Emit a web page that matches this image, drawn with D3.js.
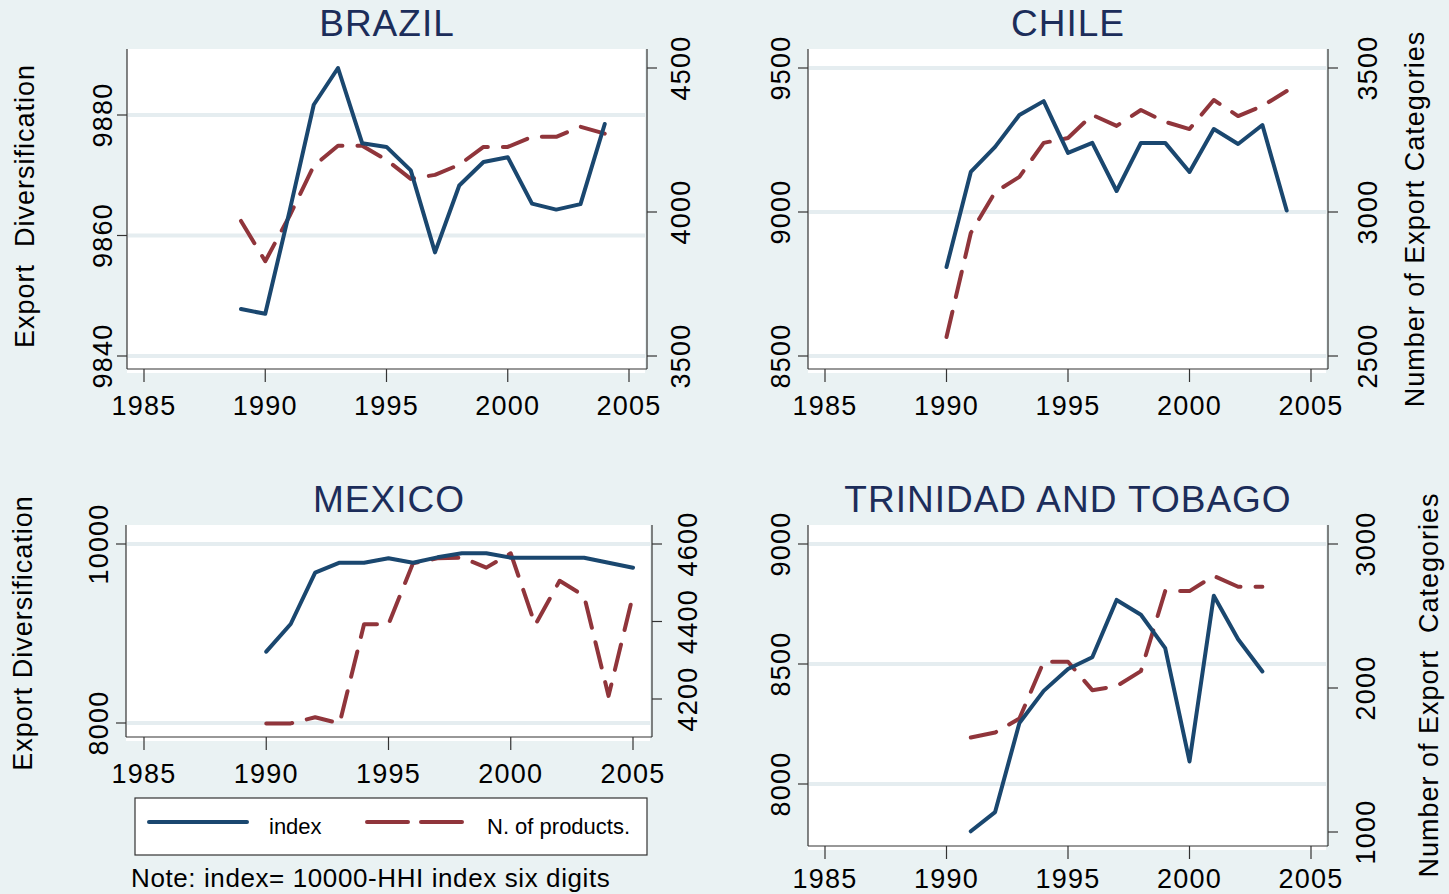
<!DOCTYPE html>
<meta charset="utf-8">
<style>
body { margin: 0; background: #eaf2f3; }
text { font-family: "Liberation Sans", Arial, sans-serif; fill: #000; white-space: pre; }
.title { fill: #1c2d5a; font-size: 37px; }
.tick { font-size: 27px; letter-spacing: 1.2px; }
.ytitle { font-size: 27px; letter-spacing: 1px; }
.axis { stroke: #333; stroke-width: 1.2px; }
.grid { stroke: #e5edf0; stroke-width: 4px; }
.index { fill: none; stroke: #1a476f; stroke-width: 4px; stroke-linejoin: round; stroke-linecap: round; }
.prod { fill: none; stroke: #90353b; stroke-width: 4px; stroke-linejoin: round; stroke-linecap: round; stroke-dasharray: 26,15; }
</style>
<body>
<script src="https://cdn.jsdelivr.net/npm/d3@7"></script>
<script>

var width = 1449;
var height = 894;

// data
var xTicks = [1985, 1990, 1995, 2000, 2005];

var brazilYears = [1989, 1990, 1991, 1992, 1993, 1994, 1995, 1996, 1997, 1998, 1999, 2000, 2001, 2002, 2003, 2004];
var brazilIndex = [9847.8, 9847, 9864, 9881.7, 9887.8, 9875.3, 9874.7, 9870.8, 9857.2, 9868.3, 9872.2, 9873, 9865.3, 9864.3, 9865.2, 9878.5];
var brazilProducts = [3969, 3829, 3986, 4160, 4230, 4230, 4181, 4115, 4129, 4164, 4226, 4226, 4261, 4261, 4296, 4272];

var chileYears = [1990, 1991, 1992, 1993, 1994, 1995, 1996, 1997, 1998, 1999, 2000, 2001, 2002, 2003, 2004];
var chileIndex = [8809, 9139, 9226, 9337, 9385, 9205, 9240, 9073, 9240, 9240, 9139, 9288, 9236, 9302, 9005];
var chileProducts = [2566, 2927, 3069, 3122, 3240, 3257, 3337, 3299, 3354, 3313, 3288, 3389, 3333, 3368, 3420];

var mexicoYears = [1990, 1991, 1992, 1993, 1994, 1995, 1996, 1997, 1998, 1999, 2000, 2001, 2002, 2003, 2004, 2005];
var mexicoIndex = [8797, 9106, 9680, 9791, 9791, 9840, 9791, 9851, 9896, 9896, 9847, 9847, 9847, 9847, 9791, 9735];
var mexicoProducts = [4137, 4137, 4153, 4137, 4393, 4393, 4550, 4563, 4565, 4539, 4576, 4391, 4505, 4466, 4208, 4468];

var ttYears = [1991, 1992, 1993, 1994, 1995, 1996, 1997, 1998, 1999, 2000, 2001, 2002, 2003];
var ttIndex = [7803, 7883, 8254, 8388, 8479, 8528, 8767, 8705, 8566, 8094, 8784, 8603, 8469];
var ttProducts = [1656, 1691, 1788, 2182, 2182, 1985, 2013, 2117, 2673, 2673, 2778, 2703, 2703];

var brazilLeftTicks = [9840, 9860, 9880];
var brazilRightTicks = [3500, 4000, 4500];
var chileLeftTicks = [8500, 9000, 9500];
var chileRightTicks = [2500, 3000, 3500];
var mexicoLeftTicks = [8000, 10000];
var mexicoRightTicks = [4200, 4400, 4600];
var ttLeftTicks = [8000, 8500, 9000];
var ttRightTicks = [1000, 2000, 3000];

var svg = d3.select("body").append("svg")
    .attr("width", width)
    .attr("height", height);

svg.append("rect").attr("width", width).attr("height", height).attr("fill", "#eaf2f3");

var panels = [
  {name: "BRAZIL", years: brazilYears, index: brazilIndex, prod: brazilProducts,
   lt: brazilLeftTicks, rt: brazilRightTicks,
   left: 127, right: 647, top: 49, bottom: 369,
   xr: [144, 629], ld: [9840, 9880], lr: [356, 115], rd: [3500, 4500], rr: [356, 68],
   titleY: 36, xlabY: 415, llabX: 112, rlabX: 690, ytitle: "Export  Diversification", ytX: 34, ytY: 206},
  {name: "CHILE", years: chileYears, index: chileIndex, prod: chileProducts,
   lt: chileLeftTicks, rt: chileRightTicks,
   left: 808, right: 1328, top: 49, bottom: 369,
   xr: [825, 1311], ld: [8500, 9500], lr: [356, 68], rd: [2500, 3500], rr: [356, 68],
   titleY: 36, xlabY: 415, llabX: 790, rlabX: 1377, rtitle: "Number of Export Categories", rtX: 1424, rtY: 219},
  {name: "MEXICO", years: mexicoYears, index: mexicoIndex, prod: mexicoProducts,
   lt: mexicoLeftTicks, rt: mexicoRightTicks,
   left: 126, right: 652, top: 525, bottom: 737,
   xr: [144, 633], ld: [8000, 10000], lr: [723, 544], rd: [4200, 4600], rr: [699, 544],
   titleY: 512, xlabY: 783, llabX: 108, rlabX: 697, ytitle: "Export Diversification", ytX: 32, ytY: 633},
  {name: "TRINIDAD AND TOBAGO", years: ttYears, index: ttIndex, prod: ttProducts,
   lt: ttLeftTicks, rt: ttRightTicks,
   left: 808, right: 1328, top: 525, bottom: 846,
   xr: [825, 1311], ld: [8000, 9000], lr: [784, 544], rd: [1000, 3000], rr: [832, 544],
   titleY: 512, xlabY: 888, llabX: 790, rlabX: 1375, rtitle: "Number of Export  Categories", rtX: 1438, rtY: 685}
];

panels.forEach(function(p) {
  var g = svg.append("g");
  var x = d3.scaleLinear().domain([1985, 2005]).range(p.xr);
  var yl = d3.scaleLinear().domain(p.ld).range(p.lr);
  var yr = d3.scaleLinear().domain(p.rd).range(p.rr);

  // plot region
  g.append("rect")
    .attr("x", p.left).attr("y", p.top)
    .attr("width", p.right - p.left - 2).attr("height", p.bottom - p.top + 4)
    .attr("fill", "#fff");

  g.selectAll(".grid").data(p.lt).enter().append("line")
    .attr("class", "grid")
    .attr("x1", p.left + 1).attr("x2", p.right - 2)
    .attr("y1", function(d) { return yl(d); })
    .attr("y2", function(d) { return yl(d); });

  // axes
  g.append("line").attr("class", "axis")
    .attr("x1", p.left).attr("x2", p.left).attr("y1", p.top).attr("y2", p.bottom);
  g.append("line").attr("class", "axis")
    .attr("x1", p.right).attr("x2", p.right).attr("y1", p.top).attr("y2", p.bottom);
  g.append("line").attr("class", "axis")
    .attr("x1", p.left).attr("x2", p.right).attr("y1", p.bottom).attr("y2", p.bottom);

  g.selectAll(".xt").data(xTicks).enter().append("line")
    .attr("class", "axis")
    .attr("x1", function(d) { return x(d); }).attr("x2", function(d) { return x(d); })
    .attr("y1", p.bottom).attr("y2", p.bottom + 13);
  g.selectAll(".xl").data(xTicks).enter().append("text")
    .attr("class", "tick")
    .attr("x", function(d) { return x(d); }).attr("y", p.xlabY)
    .attr("text-anchor", "middle")
    .text(function(d) { return d; });

  g.selectAll(".lt").data(p.lt).enter().append("line")
    .attr("class", "axis")
    .attr("x1", p.left - 10).attr("x2", p.left)
    .attr("y1", function(d) { return yl(d); }).attr("y2", function(d) { return yl(d); });
  g.selectAll(".ll").data(p.lt).enter().append("text")
    .attr("class", "tick")
    .attr("text-anchor", "middle")
    .attr("transform", function(d) { return "translate(" + p.llabX + "," + yl(d) + ") rotate(-90)"; })
    .text(function(d) { return d; });

  g.selectAll(".rt").data(p.rt).enter().append("line")
    .attr("class", "axis")
    .attr("x1", p.right).attr("x2", p.right + 10)
    .attr("y1", function(d) { return yr(d); }).attr("y2", function(d) { return yr(d); });
  g.selectAll(".rl").data(p.rt).enter().append("text")
    .attr("class", "tick")
    .attr("text-anchor", "middle")
    .attr("transform", function(d) { return "translate(" + p.rlabX + "," + yr(d) + ") rotate(-90)"; })
    .text(function(d) { return d; });

  // titles
  g.append("text").attr("class", "title")
    .attr("x", (p.left + p.right) / 2).attr("y", p.titleY)
    .attr("text-anchor", "middle").style("letter-spacing", "1px")
    .text(p.name);
  if (p.ytitle) {
    g.append("text").attr("class", "ytitle")
      .attr("text-anchor", "middle")
      .attr("transform", "translate(" + p.ytX + "," + p.ytY + ") rotate(-90)")
      .text(p.ytitle);
  }
  if (p.rtitle) {
    g.append("text").attr("class", "ytitle")
      .attr("text-anchor", "middle")
      .attr("transform", "translate(" + p.rtX + "," + p.rtY + ") rotate(-90)")
      .text(p.rtitle);
  }

  // series
  var rows = p.years.map(function(yr0, i) { return {year: yr0, index: p.index[i], prod: p.prod[i]}; });
  g.append("path").datum(rows).attr("class", "prod")
    .attr("d", d3.line().x(function(d) { return x(d.year); }).y(function(d) { return yr(d.prod); }));
  g.append("path").datum(rows).attr("class", "index")
    .attr("d", d3.line().x(function(d) { return x(d.year); }).y(function(d) { return yl(d.index); }));
});

// legend
var lg = svg.append("g");
lg.append("rect").attr("x", 135).attr("y", 798).attr("width", 512).attr("height", 57)
  .attr("fill", "#fff").attr("stroke", "#333").attr("stroke-width", 1.2);
lg.append("line").attr("class", "index").attr("x1", 149).attr("x2", 247).attr("y1", 822).attr("y2", 822);
lg.append("text").attr("x", 269).attr("y", 834).style("font-size", "22px").text("index");
lg.append("line").attr("class", "prod").style("stroke-dasharray", "41,13")
  .attr("x1", 367).attr("x2", 465).attr("y1", 822).attr("y2", 822);
lg.append("text").attr("x", 487).attr("y", 834).style("font-size", "22px").text("N. of products.");

svg.append("text").attr("x", 131).attr("y", 887).style("font-size", "26px").style("letter-spacing", "0.6px")
  .text("Note: index= 10000-HHI index six digits");

</script>
</body>
</html>
